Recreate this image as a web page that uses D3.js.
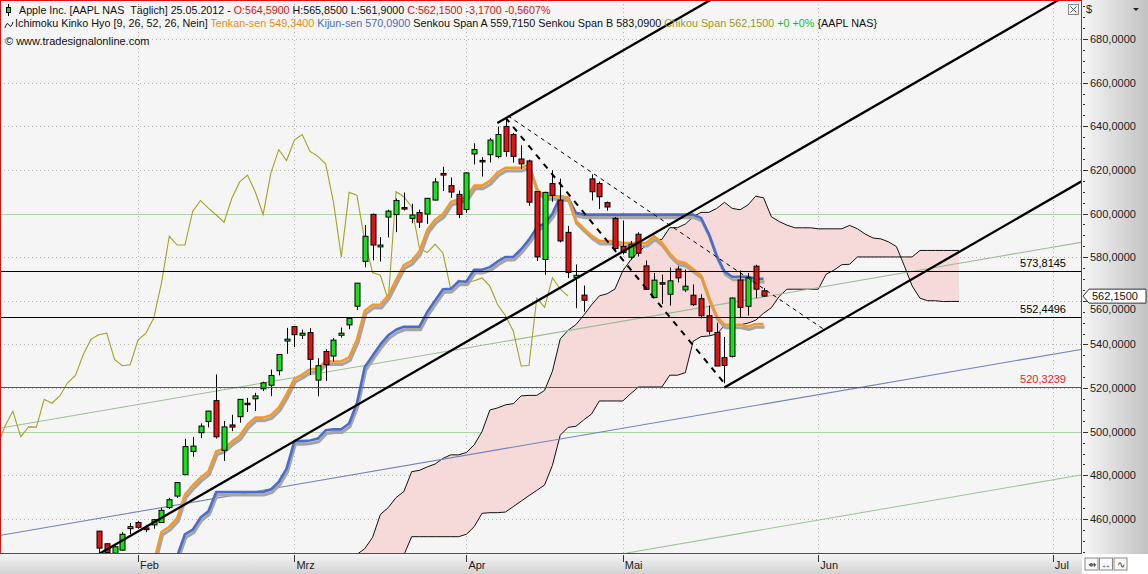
<!DOCTYPE html>
<html><head><meta charset="utf-8">
<script src="https://cdn.jsdelivr.net/npm/d3@7"></script>
<style>
body{margin:0;background:#fff;}
svg{display:block;font-family:"Liberation Sans",Arial,sans-serif;}
text{white-space:pre;}
</style></head>
<body><svg id="chart" width="1148" height="574"></svg>
<script>
// ---------------- DATA ----------------
// trading days, bar index of first entry = -5 (Feb 1 2012 = bar 0)
const firstBar = -5;
const dates = ["25.01","26.01","27.01","30.01","31.01",
"01.02","02.02","03.02","06.02","07.02","08.02","09.02","10.02","13.02","14.02","15.02","16.02","17.02","21.02","22.02","23.02","24.02","27.02","28.02","29.02",
"01.03","02.03","05.03","06.03","07.03","08.03","09.03","12.03","13.03","14.03","15.03","16.03","19.03","20.03","21.03","22.03","23.03","26.03","27.03","28.03","29.03","30.03",
"02.04","03.04","04.04","05.04","09.04","10.04","11.04","12.04","13.04","16.04","17.04","18.04","19.04","20.04","23.04","24.04","25.04","26.04","27.04","30.04",
"01.05","02.05","03.05","04.05","07.05","08.05","09.05","10.05","11.05","14.05","15.05","16.05","17.05","18.05","21.05","22.05","23.05","24.05","25.05"];
const opens = [454.44,448.65,444.34,445.71,455.59,
458.41,455.90,457.30,458.38,465.25,470.50,480.32,490.96,499.53,504.66,514.26,491.50,503.11,506.88,513.08,515.08,519.67,521.31,527.96,541.56,
548.17,544.24,545.42,523.66,536.80,534.69,544.21,548.98,557.54,578.05,599.61,584.72,598.37,599.51,602.74,597.78,600.49,599.79,606.18,618.38,612.78,608.77,
601.83,627.30,624.35,626.98,626.13,639.93,636.20,625.00,624.11,610.06,578.94,613.72,606.19,591.38,570.61,562.61,615.88,613.76,605.00,597.80,
584.90,580.00,590.50,576.00,561.49,568.32,563.00,574.58,565.00,562.57,561.00,553.16,545.49,533.96,534.50,569.55,557.50,575.87,564.59];
const highs = [454.45,448.79,448.48,454.00,458.24,
458.99,457.17,460.00,464.98,469.75,476.79,496.75,497.62,503.83,509.56,526.29,504.89,507.77,514.85,515.49,517.83,522.90,528.50,535.41,547.61,
548.21,546.80,547.48,533.69,537.78,542.99,547.74,552.00,568.18,594.72,600.01,589.20,601.77,606.90,609.65,604.50,601.80,607.15,616.28,621.45,616.56,610.56,
618.77,632.21,625.86,634.66,639.84,644.00,636.87,631.33,624.70,610.28,610.00,619.87,616.00,594.34,576.67,567.00,618.00,614.69,605.50,598.40,
596.76,587.40,591.40,578.46,572.78,572.00,575.26,575.88,574.33,567.51,563.00,557.82,549.92,543.41,561.50,573.88,572.80,576.50,565.85];
const lows = [443.73,443.14,443.77,445.50,453.07,
455.55,453.98,455.56,458.20,464.58,469.70,480.06,488.55,497.09,502.00,496.89,486.63,500.30,504.12,509.07,509.50,518.64,516.28,525.85,535.70,
538.77,542.52,526.00,516.22,523.30,532.12,543.11,547.00,555.75,575.40,578.55,578.00,589.05,591.48,601.41,595.53,593.40,595.26,606.06,610.31,607.23,597.94,
600.41,622.51,617.00,623.40,625.30,626.00,623.34,620.50,603.51,578.25,571.91,605.40,586.78,570.42,556.62,555.00,606.00,602.13,601.30,583.00,
581.23,578.86,580.30,565.00,561.24,558.50,557.79,568.44,564.00,557.60,552.00,544.52,530.08,522.18,534.05,552.58,553.23,561.23,561.90];
const closes = [446.66,444.63,447.28,453.01,456.48,
456.19,455.12,459.68,463.97,468.83,476.68,493.17,493.42,502.60,509.46,497.67,502.21,502.12,514.85,513.04,516.39,522.41,525.76,535.41,542.44,
544.47,545.18,533.16,530.26,530.69,541.99,545.17,552.00,568.10,589.58,585.56,585.57,601.10,605.96,602.50,599.34,596.05,606.98,614.48,617.62,609.86,599.55,
618.63,629.32,624.31,633.68,636.23,628.44,626.20,622.77,605.23,580.13,609.70,608.34,587.44,572.98,571.70,560.28,610.00,607.70,603.00,583.98,
582.13,585.98,581.82,565.25,569.48,568.18,569.18,570.52,566.71,558.22,553.17,546.08,530.12,530.38,561.28,556.97,570.56,565.32,562.15];

// Ichimoku lines (values read per bar)
const tenkanStart = 2;
const tenkan = [439.78,454.06,456.45,460.28,471.13,475.35,478.91,481.77,490.93,492.25,495.44,498.00,503.18,506.46,506.46,507.57,511.02,517.12,
524.26,526.17,528.64,528.86,532.22,532.22,532.22,534.11,542.20,555.47,558.12,558.12,562.54,569.51,576.38,578.33,582.70,592.53,597.14,599.73,605.25,606.47,
607.43,612.81,612.81,614.96,618.89,620.97,620.97,620.97,622.21,611.13,607.96,607.96,607.96,607.21,596.75,593.17,589.85,587.44,587.44,587.44,
586.50,586.50,586.50,586.50,589.62,586.60,581.65,578.10,577.28,574.50,571.70,561.49,552.98,549.03,549.03,549.03,548.26,549.34,549.34];
const kijunStart = 5;
const kijun = [442.9,453.0,455.1,460.7,463.5,472.4,472.4,472.4,472.4,472.4,472.4,472.4,473.5,477.0,483.1,
495.68,495.68,495.99,496.86,500.64,501.10,501.10,503.78,513.19,529.65,534.86,540.04,544.20,546.77,548.14,548.14,548.14,554.98,560.20,565.26,565.48,
568.84,568.84,574.22,574.22,575.44,578.03,580.11,580.11,583.65,588.06,593.56,595.50,599.88,607.96,607.21,600.31,599.50,
599.50,599.50,599.50,599.50,599.50,599.50,599.50,599.50,599.50,599.50,599.50,599.50,599.50,599.50,
598.00,590.70,580.71,573.44,571.03,571.03,571.03,570.09,570.09];
const senkouStart = 3;       // source bar of first cloud value
const cloudShift = 25;       // plotted this many bars ahead
const chikouShift = 25;      // closes plotted this many bars back
const senkouA = [443.8,446.4,451.6,462.1,465.2,469.8,472.6,481.7,482.3,483.9,485.2,487.8,489.4,489.4,490.5,494.0,500.1,
509.97,510.93,512.32,512.86,516.43,516.66,516.66,518.95,527.70,542.56,546.49,549.08,553.37,558.14,562.26,563.24,565.42,573.76,578.67,582.50,585.37,587.66,
588.14,593.52,593.52,595.20,598.46,600.54,600.54,602.31,605.14,602.35,601.73,603.92,607.96,607.21,598.53,596.34,594.68,593.47,593.47,593.47,
593.00,593.00,593.00,593.00,594.56,593.05,590.58,588.80,588.39,587.00,584.85,576.10,566.85,561.24,560.03,560.03,559.65,559.72,559.72];
const senkouB = [421.2,423.6,427.1,437.1,437.6,440.7,443.5,451.9,451.9,451.9,451.9,451.9,451.9,451.9,453.0,456.5,462.6,
462.9,462.9,463.2,465.7,468.2,470.7,473.1,475.6,484.6,498.4,502.0,502.5,505.4,508.1,514.1,514.1,514.1,514.1,517.4,520.5,520.5,520.5,
520.5,525.9,525.9,527.1,541.49,543.57,543.89,544.75,548.54,548.99,548.99,549.78,551.10,554.29,556.85,562.03,565.32,565.32,565.32,565.32,
565.32,572.15,574.06,576.54,576.75,580.11,580.11,580.11,580.11,580.11,580.11,580.11,580.11,583.09,583.09,583.09,583.09,583.09,583.09];

const priceTicks = [460,480,500,520,540,560,580,600,620,640,660,680];
const monthLabels = ["Feb","Mrz","Apr","Mai","Jun","Jul"];
const monthBars = [0,20,42,62,87,117];
const levelValues = [573.8145,552.4496,520.3239];
const levelColors = ["#000000","#000000","#e41e1e"];
const greenLevels = [600,500];
// drawn tools: [bar, value] anchor pairs
const pitchUpper = [[45.96,641.5],[130,815.4]];
const pitchMiddle = [[-10,433.6],[130,723.3]];
const pitchLower = [[75,520.3],[130,634.1]];
const dashThick = [[47,644.0],[75,522.18]];
const dashThin = [[47.3,644.8],[87.85,546.6]];
const chanGreen = [[-17.65,501.6],[120.6,586.8]];
const chanBlue = [[-17.65,452.5],[120.6,537.7]];
const chanGreen2 = [[62.5,444.4],[120.6,480.2]];
const lastClose = 562.15;

// ---------------- SCALES ----------------
const W = 1148, H = 574, PR = 1081, PB = 553;
const x = d3.scaleLinear().domain([-17.65,120.6]).range([0,PR]);
const y = d3.scaleLinear().domain([460,680]).range([519,39]);
const deLocale = d3.formatLocale({decimal:",",thousands:".",grouping:[3],currency:["","€"]});
const f4 = deLocale.format(".4f");

const svg = d3.select("#chart");
const defs = svg.append("defs");
defs.append("clipPath").attr("id","plotclip").append("rect").attr("x",1).attr("y",1).attr("width",PR-1).attr("height",PB-1);
const gR = defs.append("linearGradient").attr("id","gradR").attr("x1","0").attr("x2","1").attr("y1","0").attr("y2","0");
gR.append("stop").attr("offset","0").attr("stop-color","#f6f6f6");
gR.append("stop").attr("offset","1").attr("stop-color","#c2c2c2");
const gB = defs.append("linearGradient").attr("id","gradB").attr("x1","0").attr("x2","0").attr("y1","0").attr("y2","1");
gB.append("stop").attr("offset","0").attr("stop-color","#f4f4f4");
gB.append("stop").attr("offset","1").attr("stop-color","#d2d2d2");

// background
svg.append("rect").attr("x",0).attr("y",0).attr("width",W).attr("height",H).attr("fill","#fff");
svg.append("rect").attr("x",0).attr("y",0).attr("width",PR).attr("height",PB).attr("fill","#f5f5f5");

const plot = svg.append("g").attr("clip-path","url(#plotclip)");

// grid
plot.selectAll("line.hg").data(priceTicks.filter(v=>!greenLevels.includes(v))).join("line")
  .attr("x1",0).attr("x2",PR).attr("y1",d=>Math.round(y(d))+0.5).attr("y2",d=>Math.round(y(d))+0.5)
  .attr("stroke","#b4b4b4").attr("stroke-dasharray","1,3");
plot.selectAll("line.vg").data(monthBars).join("line")
  .attr("x1",d=>Math.round(x(d))+0.5).attr("x2",d=>Math.round(x(d))+0.5).attr("y1",0).attr("y2",PB)
  .attr("stroke","#b4b4b4").attr("stroke-dasharray","1,3");
plot.selectAll("line.gl").data(greenLevels).join("line")
  .attr("x1",0).attr("x2",PR).attr("y1",d=>Math.round(y(d))+0.5).attr("y2",d=>Math.round(y(d))+0.5)
  .attr("stroke","#b2d2ae").attr("stroke-width",1);

// cloud
const cloudPts = senkouA.map((a,i)=>({p:senkouStart+i+cloudShift,a:a,b:senkouB[i]}));
plot.append("path").datum(cloudPts)
  .attr("d",d3.area().x(d=>x(d.p)).y0(d=>y(d.b)).y1(d=>y(d.a)))
  .attr("fill","#f6dada").attr("stroke","none");
const lineP = d3.line().x(d=>x(d[0])).y(d=>y(d[1]));
plot.append("path").datum(cloudPts.map(d=>[d.p,d.a])).attr("d",lineP).attr("fill","none").attr("stroke","#111").attr("stroke-width",1);
plot.append("path").datum(cloudPts.map(d=>[d.p,d.b])).attr("d",lineP).attr("fill","none").attr("stroke","#111").attr("stroke-width",1);

// channel lines
[[chanGreen,"#9cbd98"],[chanBlue,"#7283b8"],[chanGreen2,"#9dc79a"]].forEach(([pts,c])=>{
  plot.append("path").datum(pts).attr("d",lineP).attr("fill","none").attr("stroke",c).attr("stroke-width",1.1);
});

// chikou span
const chikouPts = closes.map((c,i)=>[firstBar+i-chikouShift,c]);
plot.append("path").datum(chikouPts).attr("d",lineP).attr("fill","none").attr("stroke","#a4a226").attr("stroke-width",1.1);

// tenkan / kijun with shadows
const tenkanPts = tenkan.map((v,i)=>[tenkanStart+i,v]);
const kijunPts = kijun.map((v,i)=>[kijunStart+i,v]);
[[kijunPts,"#4a6ccc"],[tenkanPts,"#f5982a"]].forEach(([pts,c])=>{
  plot.append("path").datum(pts).attr("d",lineP).attr("fill","none").attr("stroke","#a5a5a5").attr("stroke-width",3.2)
    .attr("transform","translate(1,3)").attr("stroke-linejoin","round");
  plot.append("path").datum(pts).attr("d",lineP).attr("fill","none").attr("stroke",c).attr("stroke-width",2.6).attr("stroke-linejoin","round");
});

// candles
const bars = dates.map((d,i)=>({i:firstBar+i,o:opens[i],h:highs[i],l:lows[i],c:closes[i]}));
const cg = plot.append("g");
cg.selectAll("line.w").data(bars).join("line")
  .attr("x1",d=>Math.round(x(d.i))+0.5).attr("x2",d=>Math.round(x(d.i))+0.5)
  .attr("y1",d=>y(d.h)).attr("y2",d=>y(d.l)).attr("stroke","#000").attr("stroke-width",1);
cg.selectAll("rect.b").data(bars).join("rect")
  .attr("x",d=>Math.round(x(d.i))-2).attr("width",5)
  .attr("y",d=>y(Math.max(d.o,d.c))).attr("height",d=>Math.max(1.5,Math.abs(y(d.o)-y(d.c))))
  .attr("fill",d=>d.c>=d.o?"#16e016":"#e01414").attr("stroke","#000").attr("stroke-width",1);

// horizontal levels
levelValues.forEach((v,k)=>{
  plot.append("line").attr("x1",0).attr("x2",PR).attr("y1",Math.round(y(v))+0.5).attr("y2",Math.round(y(v))+0.5)
    .attr("stroke",levelColors[k]).attr("stroke-width",1);
  svg.append("text").attr("x",1066).attr("y",Math.round(y(v))-4).attr("text-anchor","end")
    .attr("font-size",11).attr("fill",levelColors[k]).text(f4(v));
});

// pitchfork & dashed lines
[pitchUpper,pitchMiddle,pitchLower].forEach(pts=>{
  plot.append("path").datum(pts).attr("d",lineP).attr("fill","none").attr("stroke","#000").attr("stroke-width",2.3);
});
plot.append("path").datum(dashThick).attr("d",lineP).attr("fill","none").attr("stroke","#000").attr("stroke-width",2).attr("stroke-dasharray","6,6");
plot.append("path").datum(dashThin).attr("d",lineP).attr("fill","none").attr("stroke","#000").attr("stroke-width",1).attr("stroke-dasharray","4,4");

// plot border
svg.append("rect").attr("x",0.5).attr("y",0.5).attr("width",PR).attr("height",PB).attr("fill","none").attr("stroke","#e01010");

// right axis
svg.append("rect").attr("x",PR+1).attr("y",0).attr("width",W-PR-1).attr("height",PB+1).attr("fill","url(#gradR)");
svg.append("line").attr("x1",PR+0.5).attr("x2",PR+0.5).attr("y1",0).attr("y2",PB).attr("stroke","#e01010");
const yc = y(lastClose);
const minor = d3.range(445,700,5);
svg.selectAll("line.mt").data(minor).join("line")
  .attr("x1",PR+2).attr("x2",d=>priceTicks.includes(d)?PR+7:PR+4)
  .attr("y1",d=>Math.round(y(d))+0.5).attr("y2",d=>Math.round(y(d))+0.5).attr("stroke","#333");
// tick labels (the one hidden behind the price marker is shifted just below it)
svg.selectAll("text.pt").data(priceTicks).join("text")
  .attr("x",PR+9).attr("y",d=>Math.abs(y(d)-yc)<12 ? yc+17 : y(d)+4)
  .attr("font-size",11).attr("fill","#222").text(d=>f4(d));
svg.append("text").attr("x",PR+5).attr("y",13).attr("font-size",11).attr("fill","#222").text("$");
svg.append("path").attr("d",`M${W-15},8 L${W-9},8 L${W-12},11 Z`).attr("fill","#222");
// price marker
svg.append("path").attr("d",`M${PR+2},${yc} L${PR+8},${yc-7} L${W-2},${yc-7} L${W-2},${yc+7} L${PR+8},${yc+7} Z`)
  .attr("fill","#fff").attr("stroke","#333");
svg.append("text").attr("x",PR+11).attr("y",yc+4).attr("font-size",11).attr("fill","#111").text(f4(lastClose));

// bottom axis
svg.append("rect").attr("x",0).attr("y",PB+1).attr("width",PR+1).attr("height",H-PB-1).attr("fill","url(#gradB)");
svg.selectAll("line.mx").data(monthBars).join("line")
  .attr("x1",d=>Math.round(x(d))+0.5).attr("x2",d=>Math.round(x(d))+0.5).attr("y1",PB+2).attr("y2",PB+9).attr("stroke","#333");
svg.selectAll("text.mx").data(monthBars).join("text")
  .attr("x",d=>x(d)+2).attr("y",PB+16).attr("font-size",11).attr("fill","#222").text((d,i)=>monthLabels[i]);
// corner buttons
["\u21F4","\u2194","\u223F"].forEach((s,k)=>{
  svg.append("rect").attr("x",PR+4+k*14.5).attr("y",PB+5).attr("width",13).attr("height",12).attr("fill","#f8f8f8").attr("stroke","#888");
  svg.append("text").attr("x",PR+10.5+k*14.5).attr("y",PB+15).attr("text-anchor","middle").attr("font-size",10).attr("fill","#333").text(s);
});

// close box
svg.append("rect").attr("x",1068.5).attr("y",4.5).attr("width",10).attr("height",10).attr("fill","#f4f4f4").attr("stroke","#888");
svg.append("path").attr("d","M1070.5,6.5 L1076.5,12.5 M1076.5,6.5 L1070.5,12.5").attr("stroke","#555");

// header
svg.append("line").attr("x1",8.5).attr("x2",8.5).attr("y1",4).attr("y2",16).attr("stroke","#000");
svg.append("rect").attr("x",6.5).attr("y",7.5).attr("width",4).attr("height",5).attr("fill","#16e016").attr("stroke","#000");
const h1 = svg.append("text").attr("x",19).attr("y",14).attr("font-size",10.7).attr("xml:space","preserve");
[["Apple Inc. [AAPL NAS\u00a0\u00a0T\u00e4glich] 25.05.2012 - ","#111"],["O:564,5900","#e01010"],[" H:565,8500 L:561,9000 ","#111"],["C:562,1500 -3,1700 -0,5607%","#e01010"]]
  .forEach(([t,c])=>h1.append("tspan").attr("fill",c).text(t));
svg.append("path").attr("d","M5,28 Q7,21 9,25 T13,22").attr("fill","none").attr("stroke","#222");
const h2 = svg.append("text").attr("x",15).attr("y",27).attr("font-size",10.8).attr("xml:space","preserve");
[["Ichimoku Kinko Hyo [9, 26, 52, 26, Nein] ","#111"],["Tenkan-sen 549,3400 ","#f08a10"],["Kijun-sen 570,0900 ","#4a6ccc"],
 ["Senkou Span A 559,7150 Senkou Span B 583,0900 ","#111"],["Chikou Span 562,1500","#9a9820"],[" +0 +0%","#18b818"],[" {AAPL NAS}","#111"]]
  .forEach(([t,c])=>h2.append("tspan").attr("fill",c).text(t));
svg.append("text").attr("x",5).attr("y",45).attr("font-size",11).attr("fill","#111").text("\u00a9 www.tradesignalonline.com");
</script></body></html>
